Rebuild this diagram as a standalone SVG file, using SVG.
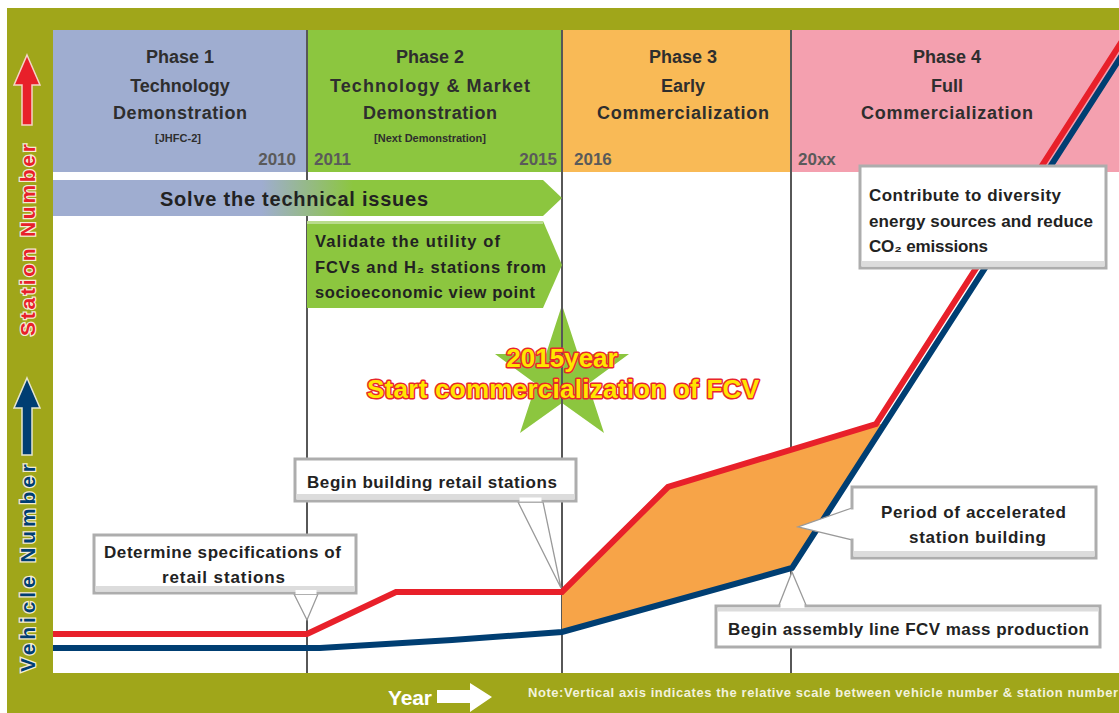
<svg xmlns="http://www.w3.org/2000/svg" width="1119" height="713" viewBox="0 0 1119 713">
  <style>
    text { font-family: "Liberation Sans", Arial, sans-serif; font-weight: bold; }
    .ph { font-size: 18px; fill: #2e2e2e; text-anchor: middle; }
    .sub { font-size: 11px; fill: #2e2e2e; text-anchor: middle; }
    .yr { font-size: 17px; fill: #5a5a5a; }
    .divider { stroke: #575757; stroke-width: 2; }
    .box { fill: #ffffff; stroke: #adadad; stroke-width: 3; }
    .boxfoot { fill: #dcdcdc; }
    .lbl { font-size: 17px; fill: #222; }
    .tail { fill: #ffffff; stroke: #9a9a9a; stroke-width: 1.3; stroke-linejoin: miter; }
    .station { fill: none; stroke: #e8202a; stroke-width: 6; stroke-linejoin: miter; }
    .vehicle { fill: none; stroke: #003e72; stroke-width: 6; stroke-linejoin: miter; }
    .promo { font-size: 26px; fill: #ffe600; stroke: #e8262b; stroke-width: 3; paint-order: stroke; stroke-linejoin: round; text-anchor: middle; }
    .axis { font-size: 21px; stroke: #f3ecd6; stroke-width: 2.5; paint-order: stroke; text-anchor: middle; }
  </style>
  <defs>
    <linearGradient id="solveGrad" x1="53" y1="0" x2="562" y2="0" gradientUnits="userSpaceOnUse">
      <stop offset="0.41" stop-color="#9fadd0"/>
      <stop offset="0.59" stop-color="#8cc63f"/>
    </linearGradient>
  </defs>

  <!-- page background and olive frame -->
  <rect x="0" y="0" width="1119" height="713" fill="#ffffff"/>
  <rect x="7" y="8" width="1112" height="705" fill="#a0a61a"/>
  <rect x="53" y="30" width="1066" height="643" fill="#ffffff"/>

  <!-- phase headers -->
  <g id="phase1">
    <rect x="53" y="30" width="254" height="142" fill="#9fadd0"/>
    <text class="ph" x="180" y="63">Phase 1</text>
    <text class="ph" x="180" y="92">Technology</text>
    <text class="ph" x="180" y="119" textLength="134">Demonstration</text>
    <text class="sub" x="178" y="142">[JHFC-2]</text>
    <text class="yr" x="296" y="165" text-anchor="end">2010</text>
  </g>
  <g id="phase2">
    <rect x="307" y="30" width="255" height="142" fill="#8cc63f"/>
    <text class="ph" x="430" y="63">Phase 2</text>
    <text class="ph" x="430" y="92" textLength="200">Technology &amp; Market</text>
    <text class="ph" x="430" y="119" textLength="134">Demonstration</text>
    <text class="sub" x="430" y="142">[Next Demonstration]</text>
    <text class="yr" x="314" y="165">2011</text>
    <text class="yr" x="557" y="165" text-anchor="end">2015</text>
  </g>
  <g id="phase3">
    <rect x="562" y="30" width="229" height="142" fill="#f9ba56"/>
    <text class="ph" x="683" y="63">Phase 3</text>
    <text class="ph" x="683" y="92">Early</text>
    <text class="ph" x="683" y="119" textLength="172">Commercialization</text>
    <text class="yr" x="574" y="165">2016</text>
  </g>
  <g id="phase4">
    <rect x="791" y="30" width="328" height="142" fill="#f4a0af"/>
    <text class="ph" x="947" y="63">Phase 4</text>
    <text class="ph" x="947" y="92">Full</text>
    <text class="ph" x="947" y="119" textLength="172">Commercialization</text>
    <text class="yr" x="798" y="165">20xx</text>
  </g>

  <!-- star behind the phase dividers -->
  <g id="launch-star">
    <polygon fill="#8cc63f" points="562,305 578,354 629,354 588,384 604,433 562,403 520,433 536,384 495,354 546,354"/>
  </g>

  <!-- phase dividers -->
  <g id="dividers">
    <line class="divider" x1="307" y1="30" x2="307" y2="673"/>
    <line class="divider" x1="562" y1="30" x2="562" y2="673"/>
    <line class="divider" x1="791" y1="30" x2="791" y2="673"/>
  </g>

  <!-- goal banners -->
  <g id="solve-banner">
    <polygon fill="url(#solveGrad)" points="53,180 543,180 562,198 543,216 53,216"/>
    <text x="294" y="206" font-size="20" fill="#222" text-anchor="middle" textLength="268">Solve the technical issues</text>
  </g>
  <g id="validate-banner">
    <polygon fill="#8cc63f" points="307,221 543,221 562,265 543,308 307,308"/>
    <rect x="307" y="221" width="236" height="3" fill="#b9dc8c"/>
    <text x="315" y="247" font-size="16.5" fill="#222" textLength="185">Validate the utility of</text>
    <text x="315" y="273" font-size="16.5" fill="#222" textLength="231">FCVs and H₂ stations from</text>
    <text x="315" y="298" font-size="16.5" fill="#222" textLength="220">socioeconomic view point</text>
  </g>

  <!-- accelerated building period -->
  <g id="acceleration-area">
    <polygon fill="#f7a448" points="562,592 668,487 876,424 885,424 792,568 562,632"/>
  </g>

  <!-- station and vehicle curves -->
  <g id="curves">
    <polyline class="vehicle" points="53,648 320,648 452,640 562,632 792,568 1124,52"/>
    <polyline class="station" points="53,634 307,634 396,592 562,592 668,487 876,424 1124,38"/>
  </g>

  <!-- milestone text on the star -->
  <g id="launch-label">
    <text class="promo" x="562" y="367" font-size="22">2015year</text>
    <text class="promo" x="563" y="398" textLength="392">Start commercialization of FCV</text>
  </g>

  <!-- callout pointers -->
  <g id="connectors">
    <polygon class="tail" points="294,594 307,620 318,594"/>
    <polygon class="tail" points="518,502 561,588 543,502"/>
    <polygon class="tail" points="852,508 798,527 852,540"/>
    <polygon class="tail" points="779,605 792,572 806,605"/>
  </g>

  <!-- callouts -->
  <g id="callout-diversity">
    <rect class="box" x="860" y="166" width="246" height="102"/>
    <rect class="boxfoot" x="861.5" y="261" width="243" height="5.5"/>
    <text class="lbl" x="869" y="201" textLength="192">Contribute to diversity</text>
    <text class="lbl" x="869" y="227" textLength="224">energy sources and reduce</text>
    <text class="lbl" x="869" y="252" textLength="119">CO₂ emissions</text>
  </g>
  <g id="callout-retail-build">
    <rect class="box" x="295" y="459" width="281" height="42"/>
    <rect class="boxfoot" x="296.5" y="494" width="278" height="5.5"/>
    <line x1="519.5" y1="499.5" x2="541.5" y2="499.5" stroke="#ffffff" stroke-width="4"/>
    <text class="lbl" x="307" y="488" textLength="250">Begin building retail stations</text>
  </g>
  <g id="callout-specs">
    <rect class="box" x="94" y="535" width="262" height="58"/>
    <rect class="boxfoot" x="95.5" y="586" width="259" height="5.5"/>
    <line x1="295.5" y1="592" x2="316.5" y2="592" stroke="#ffffff" stroke-width="4"/>
    <text class="lbl" x="104" y="558" textLength="237">Determine specifications of</text>
    <text class="lbl" x="162" y="583" textLength="123">retail stations</text>
  </g>
  <g id="callout-acceleration">
    <rect class="box" x="852" y="487" width="244" height="71"/>
    <rect class="boxfoot" x="853.5" y="551" width="241" height="5.5"/>
    <line x1="852" y1="509.5" x2="852" y2="538.5" stroke="#ffffff" stroke-width="4"/>
    <text class="lbl" x="881" y="518" textLength="185">Period of accelerated</text>
    <text class="lbl" x="909" y="543" textLength="137">station building</text>
  </g>
  <g id="callout-mass-production">
    <rect class="box" x="716" y="606" width="384" height="41"/>
    <rect class="boxfoot" x="717.5" y="607.5" width="381" height="4"/>
    <line x1="780.5" y1="606" x2="804.5" y2="606" stroke="#ffffff" stroke-width="4"/>
    <text class="lbl" x="728" y="635" textLength="361">Begin assembly line FCV mass production</text>
  </g>

  <!-- vertical axis legend -->
  <g id="axis-station">
    <polygon fill="#e8202a" stroke="#f4d4c8" stroke-width="1.5" points="27,55 40,85 32,85 32,125 22,125 22,85 14,85"/>
    <text class="axis" fill="#e8202a" transform="translate(35,240) rotate(-90)" textLength="192">Station Number</text>
  </g>
  <g id="axis-vehicle">
    <polygon fill="#003e72" stroke="#e6e6d0" stroke-width="1.5" points="27,378 40,408 32,408 32,455 22,455 22,408 14,408"/>
    <text class="axis" fill="#003e72" transform="translate(35,568) rotate(-90)" textLength="208">Vehicle Number</text>
  </g>

  <!-- horizontal axis legend and note -->
  <g id="axis-year">
    <text x="388" y="705" font-size="21" fill="#ffffff" textLength="44">Year</text>
    <polygon fill="#ffffff" points="437,690 470,690 470,683 492,697 470,712 470,703 437,703"/>
  </g>
  <g id="scale-note">
    <text x="528" y="697" font-size="13" fill="#f2f2dc" textLength="590">Note:Vertical axis indicates the relative scale between vehicle number &amp; station number</text>
  </g>
</svg>
